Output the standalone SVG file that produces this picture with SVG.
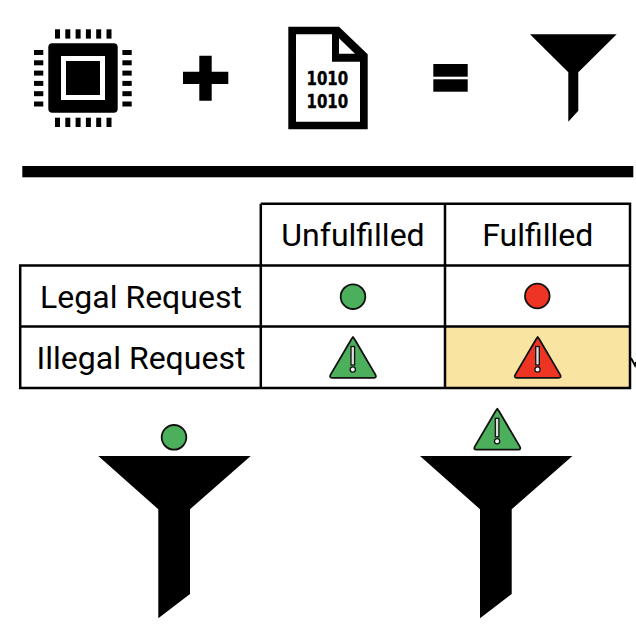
<svg xmlns="http://www.w3.org/2000/svg" width="636" height="632" viewBox="0 0 636 632">
<style>
.k{fill:#000}
.t{font-family:Roboto,"Liberation Sans",sans-serif;font-size:32px;fill:#000;text-anchor:middle}
.b{font-family:"DejaVu Sans","Liberation Sans",sans-serif;font-weight:700;font-size:19px;fill:#000;stroke:#000;stroke-width:.4}
.g{fill:none;stroke:#000;stroke-width:2.5}
.dot{stroke:#111;stroke-width:1.8}
.w{stroke:#111;stroke-width:1.8;stroke-linejoin:round}
.ex{fill:#ddd;stroke:#111;stroke-width:1.3}
</style>
<defs>
<g id="warn">
<path class="w" d="M24 1 Q24 1 25.6 3.2 L46.4 38.6 Q48 41.8 45 41.8 L3 41.8 Q0 41.8 1.6 38.6 L22.4 3.2 Q24 1 24 1Z"/>
<rect class="ex" x="22" y="10.5" width="3.6" height="18.5"/>
<circle class="ex" cx="23.8" cy="33.5" r="2.6" style="fill:#fff"/>
</g>
<path id="funnel" class="k" d="M98.3 456H250.7L190 509.3V594L158.3 618.3V509.3Z"/>
<rect id="pin" class="k" width="5" height="9.3"/>
<rect id="pinh" class="k" width="9.3" height="5"/>
</defs>
<rect width="636" height="632" fill="#fff"/>
<g id="chip">
<rect class="k" x="48.3" y="43.3" width="69.4" height="69.4" rx="4"/>
<rect x="61" y="56" width="44" height="44" fill="#fff"/>
<rect class="k" x="66" y="61" width="34" height="34"/>
<use href="#pin" x="55" y="29.3"/><use href="#pin" x="65.3" y="29.3"/><use href="#pin" x="75.6" y="29.3"/><use href="#pin" x="85.9" y="29.3"/><use href="#pin" x="96.2" y="29.3"/><use href="#pin" x="106.5" y="29.3"/>
<use href="#pin" x="55" y="117.7"/><use href="#pin" x="65.3" y="117.7"/><use href="#pin" x="75.6" y="117.7"/><use href="#pin" x="85.9" y="117.7"/><use href="#pin" x="96.2" y="117.7"/><use href="#pin" x="106.5" y="117.7"/>
<use href="#pinh" x="34" y="50"/><use href="#pinh" x="34" y="60.3"/><use href="#pinh" x="34" y="70.6"/><use href="#pinh" x="34" y="80.9"/><use href="#pinh" x="34" y="91.2"/><use href="#pinh" x="34" y="101.5"/>
<use href="#pinh" x="122.4" y="50"/><use href="#pinh" x="122.4" y="60.3"/><use href="#pinh" x="122.4" y="70.6"/><use href="#pinh" x="122.4" y="80.9"/><use href="#pinh" x="122.4" y="91.2"/><use href="#pinh" x="122.4" y="101.5"/>
</g>
<path id="plus" class="k" d="M199.3 55.7H211.7V71.7H228.3V84H211.7V100.7H199.3V84H183V71.7H199.3Z"/>
<g id="file">
<path class="k" d="M288.3 26.7H339L367.7 54.3V129.3H288.3Z"/>
<path fill="#fff" d="M296 34.3H332V61.7H360V121.7H296Z"/>
<path fill="#fff" d="M339 38.3V53.7H355Z"/>
<text class="b"><tspan x="306.5" y="85" textLength="41.7" lengthAdjust="spacingAndGlyphs">1010</tspan><tspan x="306.5" y="107.5" textLength="41.7" lengthAdjust="spacingAndGlyphs">1010</tspan></text>
</g>
<g id="equals" class="k"><rect x="433.3" y="64" width="34.4" height="12.7"/><rect x="433.3" y="79.3" width="34.4" height="12.4"/></g>
<path id="funnel-top" class="k" d="M530 34.3H616.7L578.3 72.3V110.7L568.3 121.7V72.3Z"/>
<rect id="rule" class="k" x="22.3" y="166" width="611" height="11.3"/>
<g id="table">
<rect x="445" y="326.5" width="185" height="61.5" fill="#f9e4a1"/>
<path class="g" d="M260.8 203.7H630V388H20.2V265.5H630M20.2 326.5H630M260.8 203.7V388M445 203.7V388"/>
<path d="M631 358L635 365.5L636 362" fill="none" stroke="#000" stroke-width="1.8"/>
<text class="t" x="353" y="246">Unfulfilled</text>
<text class="t" x="537.7" y="246">Fulfilled</text>
<text class="t" x="141" y="308">Legal Request</text>
<text class="t" x="141" y="369.3">Illegal Request</text>
</g>
<circle id="legal-unfulfilled" class="dot" cx="353" cy="296.7" r="12.3" fill="#4caf5b"/>
<circle id="legal-fulfilled" class="dot" cx="537.3" cy="296" r="12.3" fill="#ee3524"/>
<use id="illegal-unfulfilled" href="#warn" x="329" y="336" fill="#4caf5b"/>
<use id="illegal-fulfilled" href="#warn" x="513.7" y="336" fill="#ee3524"/>
<use id="funnel-a" href="#funnel"/>
<use id="funnel-b" href="#funnel" x="321.7"/>
<circle id="ball" class="dot" cx="174" cy="437.3" r="12.3" fill="#4caf5b"/>
<use id="warn-ball" href="#warn" x="473.3" y="407.8" fill="#4caf5b"/>
</svg>
